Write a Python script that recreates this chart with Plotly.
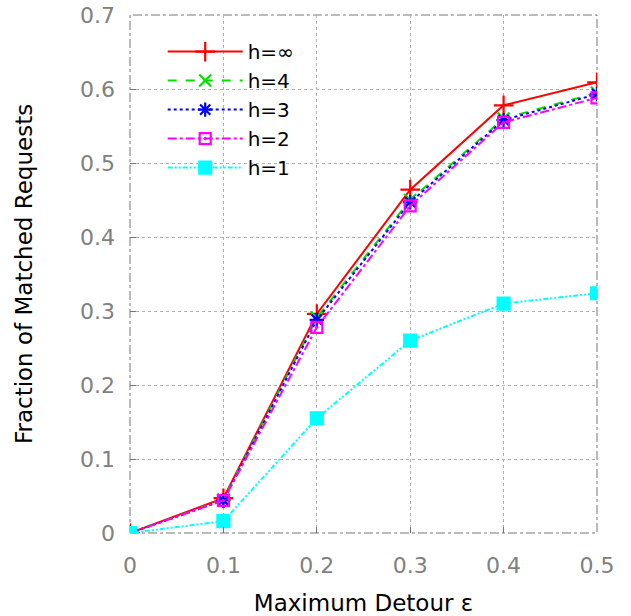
import plotly.graph_objects as go

x_vals = [0, 0.1, 0.2, 0.3, 0.4, 0.5]
h_inf = [0.0, 0.047, 0.296, 0.464, 0.578, 0.609]
h4 = [0.0, 0.045, 0.291, 0.450, 0.560, 0.595]
h3 = [0.0, 0.044, 0.288, 0.447, 0.558, 0.593]
h2 = [0.0, 0.044, 0.278, 0.442, 0.555, 0.588]
h1 = [0.0, 0.016, 0.155, 0.260, 0.310, 0.324]

x_ticks = [0, 0.1, 0.2, 0.3, 0.4, 0.5]
x_labels = ["0", "0.1", "0.2", "0.3", "0.4", "0.5"]
y_ticks = [0, 0.1, 0.2, 0.3, 0.4, 0.5, 0.6, 0.7]
y_labels = ["0", "0.1", "0.2", "0.3", "0.4", "0.5", "0.6", "0.7"]

names = ["h=∞", "h=4", "h=3", "h=2", "h=1"]
series = [h_inf, h4, h3, h2, h1]
colors = ["#ff0000", "#00e000", "#0000ff", "#ff00ff", "#00ffff"]
dashes = ["solid", "dash", "dot", "dashdot", "5px,2px,2px,2px,2px,2px"]
symbols = ["cross-thin-open", "x-thin-open", "asterisk-open", "square-open-dot", "square"]
sizes = [14, 12, 12, 11, 12]

fig = go.Figure()
for n, s, c, d, sym, sz in zip(names, series, colors, dashes, symbols, sizes):
    fig.add_trace(go.Scatter(
        x=x_vals, y=s, name=n, mode="lines+markers",
        line=dict(color=c, width=2, dash=d),
        marker=dict(symbol=sym, size=sz, color=c, line=dict(color=c, width=2.2)),
    ))

fig.add_shape(type="rect", xref="paper", yref="paper", x0=0, x1=1, y0=0, y1=1,
              line=dict(color="#777777", width=1, dash="dashdot"), layer="below")

fig.update_layout(
    width=631, height=616,
    margin=dict(l=130, r=34, t=15, b=83),
    plot_bgcolor="white", paper_bgcolor="white",
    font=dict(family="DejaVu Sans", color="black"),
    showlegend=True,
    legend=dict(x=0.07, y=0.967, xanchor="left", yanchor="top",
                bgcolor="rgba(0,0,0,0)", font=dict(size=20, color="black"),
                itemwidth=75, tracegroupgap=0),
    xaxis=dict(
        range=[0, 0.5], tickvals=x_ticks, ticktext=x_labels,
        showgrid=True, gridcolor="#b0b0b0", griddash="dot", gridwidth=1,
        showline=False, automargin=False,
        ticks="inside", ticklen=6, tickcolor="#777777", tickwidth=1,
        ticklabelstandoff=17,
        tickfont=dict(size=22, color="#808080"),
        title=dict(text="Maximum Detour ε", font=dict(size=23, color="black"), standoff=17),
        zeroline=False,
    ),
    yaxis=dict(
        range=[0, 0.7], tickvals=y_ticks, ticktext=y_labels,
        showgrid=True, gridcolor="#b0b0b0", griddash="dot", gridwidth=1,
        showline=False, automargin=False,
        ticks="inside", ticklen=6, tickcolor="#777777", tickwidth=1,
        ticklabelstandoff=14,
        tickfont=dict(size=22, color="#808080"),
        title=dict(text="Fraction of Matched Requests", font=dict(size=23, color="black"), standoff=40),
        zeroline=False,
    ),
)

fig.write_html("out.html")
